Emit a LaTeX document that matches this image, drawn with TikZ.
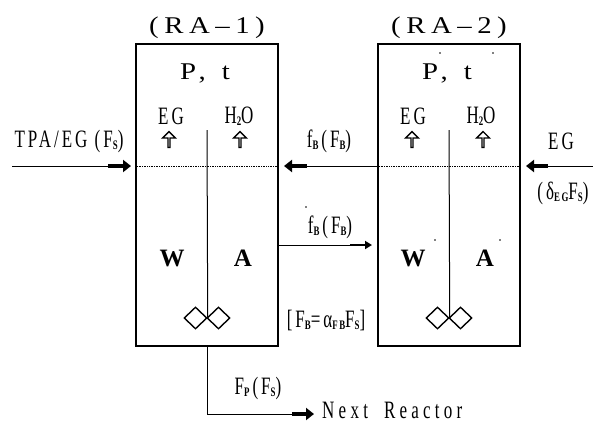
\documentclass[tikz,border=0pt]{standalone}
\usepackage{fontspec}
\newfontfamily\narrowfont[FakeStretch=0.68,LetterSpace=12]{Liberation Serif}
\newfontfamily\spacedfont[FakeStretch=0.68,LetterSpace=17]{Liberation Serif}
\newfontfamily\widefont[FakeStretch=1.2,LetterSpace=23]{Liberation Serif}
\newfontfamily\plainfont{Liberation Serif}
\usetikzlibrary{shapes.geometric,shapes.arrows,arrows.meta}
\newcommand{\subs}[1]{\raisebox{-2pt}{\fontsize{13}{13}\selectfont\bfseries #1}}
\begin{document}
\begin{tikzpicture}[x=1pt,y=-1pt]
  \tikzset{
    tank/.style={
      rectangle,
      draw=black,
      line width=1.5pt,
      minimum width=142pt,
      minimum height=302pt
    },
    paddle/.style={
      diamond,
      draw=black,
      line width=1.4pt,
      minimum width=23pt,
      minimum height=22pt,
      inner sep=0pt
    },
    upflow/.style={
      single arrow,
      draw=black,
      line width=1.4pt,
      rotate=90,
      minimum height=16pt,
      minimum width=13pt,
      single arrow head extend=4pt,
      single arrow tip angle=90,
      inner sep=0pt
    },
    lab/.style={
      font=\narrowfont\fontsize{25}{25}\selectfont,
      inner sep=0pt
    },
    heading/.style={
      font=\widefont\fontsize{24}{24}\selectfont,
      inner sep=0pt
    },
    phase/.style={
      font=\plainfont\bfseries\fontsize{25}{25}\selectfont,
      inner sep=0pt
    },
    thinline/.style={line width=1pt},
    fatline/.style={line width=4.5pt, -{Triangle[length=8pt,width=12pt]}},
    levelline/.style={densely dotted, line width=0.7pt},
    primedot/.style={circle, fill=black, inner sep=0pt, minimum size=1.8pt}
  }
  \useasboundingbox (0,0) rectangle (593,423);

  \node[tank] (T1) at (207,195) {};
  \node[tank] (T2) at (449,195) {};

  % titles
  \node[heading] (title1) at (207,28) {(RA\textendash1)};
  \node[heading] (title2) at (449,28) {(RA\textendash2)};
  \node[heading] (pt1) at (205,73) {P,\hspace{16pt}t};
  \node[heading] (pt2) at (447,73) {P,\hspace{16pt}t};

  % vapour
  \node[lab] (eg1) at (171,116) {EG};
  \node[lab] (wat1) at (239,116) {H\subs{2}O};
  \node[lab] (eg2) at (413,116) {EG};
  \node[lab] (wat2) at (481,116) {H\subs{2}O};
  \node[upflow] (up1) at (169,140) {};
  \node[upflow] (up2) at (240,140) {};
  \node[upflow] (up3) at (412,140) {};
  \node[upflow] (up4) at (483,140) {};

  % level
  \coordinate (lev) at (0,166);
  \draw[levelline] (T1.west |- lev) -- (T1.east |- lev);
  \draw[levelline] (T2.west |- lev) -- (T2.east |- lev);

  % content
  \node[phase] (w1) at (172,258) {W};
  \node[phase] (a1) at (243,258) {A};
  \node[phase] (w2) at (413,258) {W};
  \node[phase] (a2) at (485,258) {A};

  % stirrers
  \node[paddle] (pa1) at (195.5,318) {};
  \node[paddle] (pb1) at (218.5,318) {};
  \node[paddle] (pa2) at (437.5,318) {};
  \node[paddle] (pb2) at (460.5,318) {};
  \coordinate (s1) at (207,130);
  \coordinate (s2) at (449,130);
  \draw[thinline] (s1) -- (pa1.east);
  \draw[thinline] (s2) -- (pa2.east);

  % feed
  \coordinate (feed) at (12,166);
  \coordinate (feedm) at (108,166);
  \coordinate (feede) at (131,166);
  \draw[thinline] (feed) -- (feedm);
  \draw[fatline] (feedm) -- (feede);
  \node[lab] (feedl) at (69,141) {TPA/EG (F\subs{S})};

  % back flow
  \coordinate (backm) at (307,166);
  \coordinate (backe) at (284,166);
  \draw[thinline] (T2.west |- backm) -- (backm);
  \draw[fatline] (backm) -- (backe);
  \node[lab] (backl) at (329,141) {f\subs{B}\hspace{3pt}(F\subs{B})};

  % forward flow
  \coordinate (form) at (350,245);
  \coordinate (fore) at (372,245);
  \draw[thinline] (T1.east |- form) -- (form);
  \draw[line width=2.5pt, -{Triangle[length=7pt,width=8pt]}] (form) -- (fore);
  \node[lab] (forl) at (330,227) {f\subs{B}\hspace{3pt}(F\subs{B})};
  \node[lab] (ratio) at (326,320) {[F\subs{B}=α\subs{FB}F\subs{S}]};

  % EG feed
  \coordinate (egs) at (593,166);
  \coordinate (egm) at (548,166);
  \coordinate (ege) at (526,166);
  \draw[thinline] (egs) -- (egm);
  \draw[fatline] (egm) -- (ege);
  \node[lab] (egl) at (561,141) {EG};
  \node[lab] (egr) at (563,193) {(δ\subs{EG}F\subs{S})};

  % product
  \coordinate (pc) at (207,414);
  \coordinate (pm) at (292,414);
  \coordinate (pe) at (314,414);
  \draw[thinline] (T1.south -| pc) -- (pc) -- (pm);
  \draw[fatline] (pm) -- (pe);
  \node[lab] (pl) at (258,388) {F\subs{P}\hspace{3pt}(F\subs{S})};
  \node[lab, font=\spacedfont\fontsize{25}{25}\selectfont, anchor=west] (next) at (322,410) {Next\hspace{16pt}Reactor};

  % primes
  \node[primedot] (d1) at (440,53) {};
  \node[primedot] (d2) at (493,53) {};
  \node[primedot] (d3) at (306,207) {};
  \node[primedot] (d4) at (435,240) {};
  \node[primedot] (d5) at (500,240) {};
\end{tikzpicture}
\end{document}
